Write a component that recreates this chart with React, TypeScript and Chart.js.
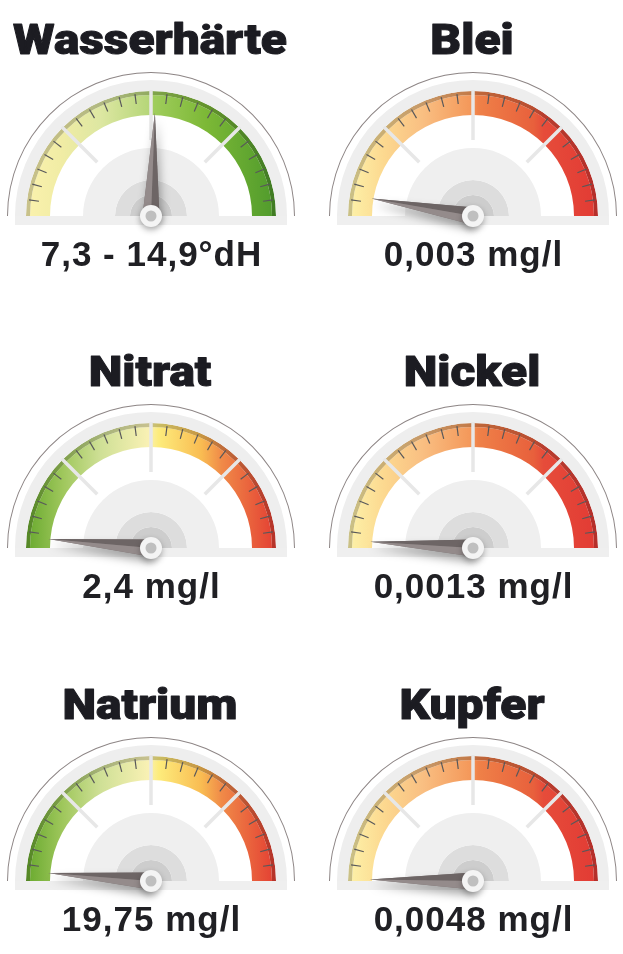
import React, { useEffect, useRef } from 'react';
import { Chart, registerables } from 'chart.js';

Chart.register(...registerables);

// ---------- data ----------
const gaugeTitles = ['Wasserhärte', 'Blei', 'Nitrat', 'Nickel', 'Natrium', 'Kupfer'];
const gaugeReadings = ['7,3 - 14,9°dH', '0,003 mg/l', '2,4 mg/l', '0,0013 mg/l', '19,75 mg/l', '0,0048 mg/l'];
// needle position as percent of the dial (0 = far left, 100 = far right)
const needlePositions = [51.2, 5.4, 2.8, 1.9, 2.5, 0.5];
const gaugeScales = ['hardness', 'metal', 'nutrient', 'metal', 'nutrient', 'metal'];
const dialSections = [25, 25, 25, 25];
const minorTicksPerSection = 6;

// ---------- styles ----------
const palettes: Record<string, [number, string][]> = {
  hardness: [
    [0, '#fbf2ae'], [0.15, '#f0eca4'], [0.3, '#dde7a2'], [0.49, '#b6d679'],
    [0.51, '#a0cd5c'], [0.72, '#7cb836'], [1, '#4f9a2c'],
  ],
  metal: [
    [0, '#fdf3aa'], [0.15, '#fcd88f'], [0.3, '#f9bf82'], [0.49, '#f4985a'],
    [0.52, '#ef8148'], [0.74, '#e8603c'], [0.78, '#e64c3a'], [1, '#e23a34'],
  ],
  nutrient: [
    [0, '#66a82c'], [0.15, '#9fc75c'], [0.3, '#cfe096'], [0.49, '#f9f1b4'],
    [0.53, '#fdec7c'], [0.7, '#f9bc52'], [0.78, '#f08a48'], [1, '#e33c32'],
  ],
};

function darken(hex: string, f: number) {
  const n = parseInt(hex.slice(1), 16);
  const r = Math.round(((n >> 16) & 255) * f);
  const g = Math.round(((n >> 8) & 255) * f);
  const b = Math.round((n & 255) * f);
  return `rgb(${r},${g},${b})`;
}

function gradientFor(scale: string, dark: boolean) {
  return (c: any) => {
    const chart = c.chart;
    const a = chart.chartArea;
    if (!a) return '#cccccc';
    const mid = (a.left + a.right) / 2;
    const g = chart.ctx.createLinearGradient(mid - 126, 0, mid + 126, 0);
    palettes[scale].forEach(([o, col]) => g.addColorStop(o, dark ? darken(col, 0.8) : col));
    return g;
  };
}

const gaugeDecor = {
  id: 'gaugeDecor',
  afterDatasetsDraw(chart: any, _args: any, opts: any) {
    const ctx: CanvasRenderingContext2D = chart.ctx;
    const bezel = chart.getDatasetMeta(2).data[0];
    const band = chart.getDatasetMeta(3).data[0];
    const bandIn = chart.getDatasetMeta(4).data[0];
    const hub = chart.getDatasetMeta(6).data[0];
    const cx = band.x;
    const cy = band.y;
    const bandOuter = band.outerRadius;
    const bandInner = bandIn.innerRadius;
    const bezelOuter = bezel.outerRadius;
    const hubOuter = hub.outerRadius;

    ctx.save();
    // base plate
    ctx.fillStyle = '#efefef';
    ctx.fillRect(cx - bezelOuter, cy, bezelOuter * 2, 9);

    // section separators
    const nSec = dialSections.length;
    ctx.strokeStyle = '#e7e7e7';
    ctx.lineWidth = 3.5;
    ctx.lineCap = 'butt';
    for (let k = 1; k < nSec; k++) {
      const th = Math.PI * (1 - k / nSec);
      const ux = Math.cos(th), uy = -Math.sin(th);
      ctx.beginPath();
      ctx.moveTo(cx + ux * (hubOuter + 8), cy + uy * (hubOuter + 8));
      ctx.lineTo(cx + ux * (bandOuter + 1), cy + uy * (bandOuter + 1));
      ctx.stroke();
    }
    // minor ticks
    const nTicks = nSec * minorTicksPerSection;
    ctx.strokeStyle = '#58585a';
    ctx.lineWidth = 1.2;
    for (let i = 1; i < nTicks; i++) {
      if (i % minorTicksPerSection === 0) continue;
      const th = Math.PI * (1 - i / nTicks);
      const ux = Math.cos(th), uy = -Math.sin(th);
      ctx.beginPath();
      ctx.moveTo(cx + ux * (bandOuter - 2), cy + uy * (bandOuter - 2));
      ctx.lineTo(cx + ux * (bandOuter - 12), cy + uy * (bandOuter - 12));
      ctx.stroke();
    }

    // needle
    const frac = opts.value / 100;
    const th = Math.PI * (1 - frac);
    const ux = Math.cos(th), uy = -Math.sin(th);
    const px = -uy, py = ux;
    const L = bandInner + 2;
    const w = 8.5;
    const tip = [cx + ux * L, cy + uy * L];
    const b1 = [cx + px * w, cy + py * w];
    const b2 = [cx - px * w, cy - py * w];
    ctx.save();
    ctx.shadowColor = 'rgba(0,0,0,0.35)';
    ctx.shadowBlur = 10;
    ctx.shadowOffsetX = 2;
    ctx.shadowOffsetY = 6;
    ctx.fillStyle = '#7a7272';
    ctx.beginPath();
    ctx.moveTo(tip[0], tip[1]);
    ctx.lineTo(b1[0], b1[1]);
    ctx.lineTo(b2[0], b2[1]);
    ctx.closePath();
    ctx.fill();
    ctx.restore();
    ctx.fillStyle = '#6d6565';
    ctx.beginPath();
    ctx.moveTo(tip[0], tip[1]);
    ctx.lineTo(b1[0], b1[1]);
    ctx.lineTo(cx, cy);
    ctx.closePath();
    ctx.fill();
    ctx.fillStyle = '#948b8b';
    ctx.beginPath();
    ctx.moveTo(tip[0], tip[1]);
    ctx.lineTo(b2[0], b2[1]);
    ctx.lineTo(cx, cy);
    ctx.closePath();
    ctx.fill();

    // pivot
    ctx.save();
    ctx.shadowColor = 'rgba(0,0,0,0.3)';
    ctx.shadowBlur = 6;
    ctx.shadowOffsetY = 3;
    ctx.fillStyle = '#f4f4f4';
    ctx.beginPath();
    ctx.arc(cx, cy, 11, 0, Math.PI * 2);
    ctx.fill();
    ctx.restore();
    ctx.fillStyle = '#bfbfbf';
    ctx.beginPath();
    ctx.arc(cx, cy, 5.5, 0, Math.PI * 2);
    ctx.fill();

    // title
    ctx.fillStyle = '#1c1c22';
    ctx.strokeStyle = '#1c1c22';
    ctx.textAlign = 'center';
    ctx.textBaseline = 'alphabetic';
    ctx.save();
    ctx.font = '900 42px Roboto';
    ctx.translate(cx - 1, cy - 162);
    ctx.scale(1.14, 1);
    ctx.lineWidth = 1;
    ctx.lineJoin = 'round';
    ctx.fillText(opts.title, 0, 0);
    ctx.strokeText(opts.title, 0, 0);
    ctx.restore();

    // reading
    ctx.save();
    ctx.font = 'bold 35px "Liberation Sans"';
    (ctx as any).letterSpacing = '1px';
    ctx.fillStyle = '#202024';
    ctx.fillText(opts.reading, cx + 0.5, cy + 50);
    ctx.restore();
    ctx.restore();
  },
};

function Gauge({ index, left, top }: { index: number; left: number; top: number }) {
  const ref = useRef<HTMLCanvasElement>(null);
  useEffect(() => {
    const scale = gaugeScales[index];
    const single = [100];
    const chart = new Chart(ref.current as HTMLCanvasElement, {
      type: 'doughnut',
      data: {
        datasets: [
          { data: single, weight: 1, backgroundColor: '#8d8585', borderWidth: 0 },
          { data: single, weight: 7, backgroundColor: 'rgba(0,0,0,0)', borderWidth: 0 },
          { data: single, weight: 11, backgroundColor: '#eeeeee', borderWidth: 0 },
          { data: dialSections, weight: 4, backgroundColor: gradientFor(scale, true), borderWidth: 0 },
          { data: dialSections, weight: 20, backgroundColor: gradientFor(scale, false), borderWidth: 0 },
          { data: single, weight: 33, backgroundColor: 'rgba(0,0,0,0)', borderWidth: 0 },
          { data: single, weight: 32, backgroundColor: '#efefef', borderWidth: 0 },
          { data: single, weight: 15, backgroundColor: '#dddddd', borderWidth: 0 },
          { data: single, weight: 21, backgroundColor: '#cdcdcd', borderWidth: 0 },
        ] as any,
      },
      options: {
        responsive: false,
        animation: false,
        events: [],
        circumference: 180,
        rotation: -90,
        cutout: 0,
        radius: 144,
        layout: { padding: { top: 72, bottom: 117, left: 0, right: 0 } },
        plugins: {
          legend: { display: false },
          tooltip: { enabled: false },
          gaugeDecor: {
            value: needlePositions[index],
            title: gaugeTitles[index],
            reading: gaugeReadings[index],
          },
        } as any,
      },
      plugins: [gaugeDecor],
    });
    return () => chart.destroy();
  }, [index]);
  return (
    <canvas
      ref={ref}
      width={300}
      height={333}
      style={{ position: 'absolute', left, top, width: 300, height: 333, display: 'block' }}
    />
  );
}

const columnLefts = [1, 323];
const rowTops = [0, 332, 665];

export default function App() {
  return (
    <div style={{ position: 'absolute', left: 0, top: 0, width: 623, height: 954, background: '#ffffff' }}>
      {gaugeTitles.map((t, i) => (
        <Gauge key={t} index={i} left={columnLefts[i % 2]} top={rowTops[Math.floor(i / 2)]} />
      ))}
    </div>
  );
}
